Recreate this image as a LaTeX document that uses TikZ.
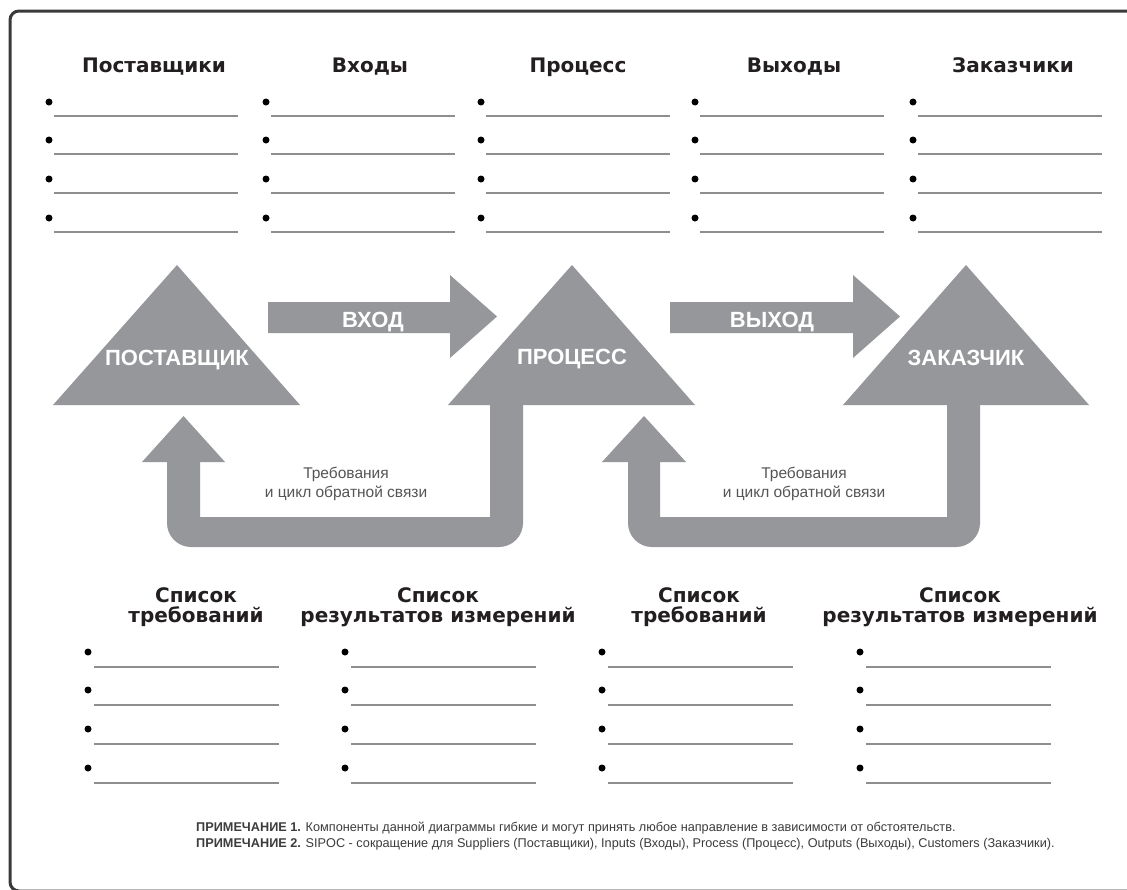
\documentclass[tikz,border=0pt]{standalone}
\usepackage{fontspec}
\setmainfont{Liberation Sans}
\newfontfamily\headfont{DejaVu Sans}
\definecolor{shapegray}{HTML}{96979A}
\definecolor{rulegray}{HTML}{8E8E8E}
\definecolor{inkdark}{HTML}{231F20}
\definecolor{framegray}{HTML}{3A3A3A}
\definecolor{softink}{HTML}{555555}
\definecolor{noteink}{HTML}{3C3C3C}
\begin{document}
\begin{tikzpicture}[x=1pt,y=-1pt,
  head/.style={font=\headfont\bfseries\fontsize{20}{20}\selectfont, text=inkdark, inner sep=0pt, anchor=base},
  shapelabel/.style={font=\bfseries\fontsize{22}{22}\selectfont, text=white, inner sep=0pt, anchor=base},
  loopnote/.style={font=\fontsize{15.5}{19}\selectfont, text=softink, inner sep=0pt, anchor=base},
  footnote/.style={font=\fontsize{12.7}{15}\selectfont, text=noteink, inner sep=0pt, anchor=base west},
  dot/.style={circle, fill=black, inner sep=0pt, minimum size=7pt},
  rule/.style={draw=rulegray, line width=2pt},
  block/.style={fill=shapegray, draw=none}]

% canvas and frame (the frame runs on past the right and bottom edges)
\useasboundingbox (0,0) rectangle (1127,889);
\clip (0,0) rectangle (1127,889);
\fill[white] (0,0) rectangle (1127,889);
\draw[framegray, line width=3pt, rounded corners=9pt] (1160,11) -- (10,11) -- (10,891) -- (1160,891);

% upper lists: SIPOC columns
\foreach \bx/\hx/\lbl [count=\i] in {49/154/Поставщики, 266/370/Входы, 481/578/Процесс, 695/794/Выходы, 913/1013/Заказчики}{
  \node[head] (top\i) at (\hx,72) {\lbl};
  \foreach \yy [count=\r] in {102,140,179,218}{
    \node[dot] (td\i-\r) at (\bx,\yy) {};
    \coordinate (tl\i-\r) at (\bx+5,\yy+14);
    \draw[rule] (tl\i-\r) -- ++(184,0);
  }
}

% triangles
\fill[block] (177,265) -- (300,405) -- (53,405) -- cycle;
\fill[block] (572,265) -- (695,405) -- (448,405) -- cycle;
\fill[block] (966,265) -- (1089,405) -- (843,405) -- cycle;
\node[shapelabel] (supplier) at (177,365) {ПОСТАВЩИК};
\node[shapelabel] (process)  at (572,364) {ПРОЦЕСС};
\node[shapelabel] (customer) at (966,365) {ЗАКАЗЧИК};

% block arrows between triangles
\fill[block] (268,302) -- (450,302) -- (450,275) -- (497,316.5) -- (450,358) -- (450,333) -- (268,333) -- cycle;
\fill[block] (670,302) -- (853,302) -- (853,275) -- (900,316.5) -- (853,358) -- (853,333) -- (670,333) -- cycle;
\node[shapelabel] (inarrow)  at (373,327) {ВХОД};
\node[shapelabel] (outarrow) at (772,327) {ВЫХОД};

% feedback loops
\fill[block] (490,400) -- (490,517) -- (200,517) -- (200,462) -- (225,462) -- (183.5,416) -- (142,462) -- (167,462)
  -- (167,500) [rounded corners=24pt] -- (167,547) -- (523,547) -- (523,500) [sharp corners] -- (523,400) -- cycle;
\fill[block] (947,400) -- (947,517) -- (660,517) -- (660,462) -- (686,462) -- (644,416) -- (602,462) -- (628,462)
  -- (628,500) [rounded corners=24pt] -- (628,547) -- (980,547) -- (980,500) [sharp corners] -- (980,400) -- cycle;
\node[loopnote] (req1a) at (346,478) {Требования};
\node[loopnote] (req1b) at (346,497) {и цикл обратной связи};
\node[loopnote] (req2a) at (804,478) {Требования};
\node[loopnote] (req2b) at (804,497) {и цикл обратной связи};

% lower lists
\foreach \bx/\hx/\la/\lb [count=\i] in {88/196/Список/требований, 345/438/Список/результатов измерений, 602/699/Список/требований, 860/960/Список/результатов измерений}{
  \node[head] (bha\i) at (\hx,602) {\la};
  \node[head] (bhb\i) at (\hx,622) {\lb};
  \foreach \yy [count=\r] in {652,690,729,768}{
    \node[dot] (bd\i-\r) at (\bx,\yy) {};
    \coordinate (bl\i-\r) at (\bx+6,\yy+15);
    \draw[rule] (bl\i-\r) -- ++(185,0);
  }
}

% notes
\node[footnote] (note1) at (196,831) {\textbf{ПРИМЕЧАНИЕ 1.} Компоненты данной диаграммы гибкие и могут принять любое направление в зависимости от обстоятельств.};
\node[footnote] (note2) at (196,847) {\textbf{ПРИМЕЧАНИЕ 2.} SIPOC - сокращение для Suppliers (Поставщики), Inputs (Входы), Process (Процесс), Outputs (Выходы), Customers (Заказчики).};
\end{tikzpicture}
\end{document}
